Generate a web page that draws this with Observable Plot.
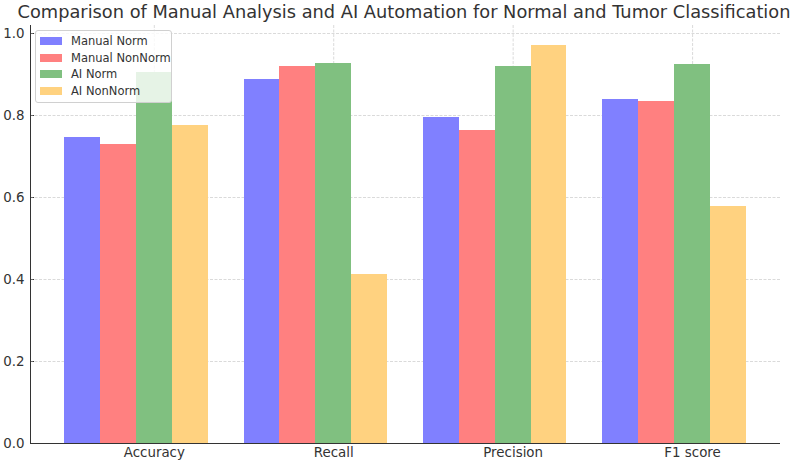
<!DOCTYPE html>
<html><head><meta charset="utf-8">
<script src="https://cdn.jsdelivr.net/npm/d3@7"></script>
<script src="https://cdn.jsdelivr.net/npm/@observablehq/plot@0.6"></script>
<style>
body{margin:0;background:#fff;font-family:"DejaVu Sans",sans-serif;}
#wrap{position:relative;width:794px;height:465px;overflow:hidden;background:#fff;}
#title{height:24px;line-height:24px;padding-top:0px;box-sizing:border-box;text-align:center;font-size:17.8px;color:#333;padding-left:14px;white-space:nowrap;}
#legend{position:absolute;left:35px;top:30px;width:137px;box-sizing:border-box;padding:2px 0 3px 4px;background:rgba(255,255,255,0.8);border:1px solid #d0d0d0;border-radius:3px;font-size:11.5px;color:#333;}
.row{display:flex;align-items:center;height:16.5px;}
.sw{width:22px;height:8px;margin-right:9px;}
</style></head><body>
<div id="wrap"><div id="title"></div><div id="chart"></div><div id="legend"></div></div>
<script>
const titleText = "Comparison of Manual Analysis and AI Automation for Normal and Tumor Classification";
const metrics = ["Accuracy", "Recall", "Precision", "F1 score"];
const series = ["Manual Norm", "Manual NonNorm", "AI Norm", "AI NonNorm"];
const colors = ["#8080ff", "#ff8080", "#80c080", "#ffd280"];
const manualNorm = [0.747, 0.888, 0.795, 0.839];
const manualNonNorm = [0.729, 0.920, 0.763, 0.835];
const aiNorm = [0.904, 0.926, 0.920, 0.924];
const aiNonNorm = [0.775, 0.412, 0.971, 0.578];
const yTicks = [0, 0.2, 0.4, 0.6, 0.8, 1.0];

const values = [manualNorm, manualNonNorm, aiNorm, aiNonNorm];
const data = metrics.flatMap((m, i) => series.map((s, j) => ({i, j, metric: m, series: s, value: values[j][i]})));

document.getElementById("title").textContent = titleText;

// bar layout like the source: width 0.2 per bar, ticks at the third bar's centre
const barW = 0.2;
const lo = -2.5 * barW, hi = metrics.length - 1 + 1.5 * barW;
const pad = 0.05 * (hi - lo);
const xDomain = [lo - pad, hi + pad];
const yMax = d3.max(data, d => d.value) * 1.05;

const gridStyle = {stroke: "#b0b0b0", strokeOpacity: 0.6, strokeDasharray: "3,1.5", strokeWidth: 0.8};

const chart = Plot.plot({
  width: 794, height: 441,
  marginTop: 1, marginBottom: 22, marginLeft: 30, marginRight: 14,
  style: {fontFamily: "DejaVu Sans", fontSize: "13.4px", color: "#333", background: "transparent"},
  x: {domain: xDomain, ticks: d3.range(metrics.length), tickFormat: i => metrics[i], tickSize: -4, tickPadding: 8, label: null},
  y: {domain: [0, yMax], ticks: yTicks, tickFormat: ".1f", tickSize: -4, tickPadding: 10, label: null},
  color: {domain: series, range: colors},
  marks: [
    Plot.ruleY(yTicks, gridStyle),
    Plot.ruleX(d3.range(metrics.length), gridStyle),
    Plot.rectY(data, {x1: d => d.i + (d.j - 2.5) * barW, x2: d => d.i + (d.j - 1.5) * barW, y: "value", fill: "series", shapeRendering: "crispEdges"}),
    Plot.ruleX([xDomain[0]], {stroke: "#333", strokeWidth: 1}),
    Plot.ruleY([0], {stroke: "#333", strokeWidth: 1})
  ]
});
document.getElementById("chart").appendChild(chart);

const legend = d3.select("#legend");
series.forEach((s, i) => {
  const row = legend.append("div").attr("class", "row");
  row.append("div").attr("class", "sw").style("background", colors[i]);
  row.append("span").text(s);
});
</script>
</body></html>
